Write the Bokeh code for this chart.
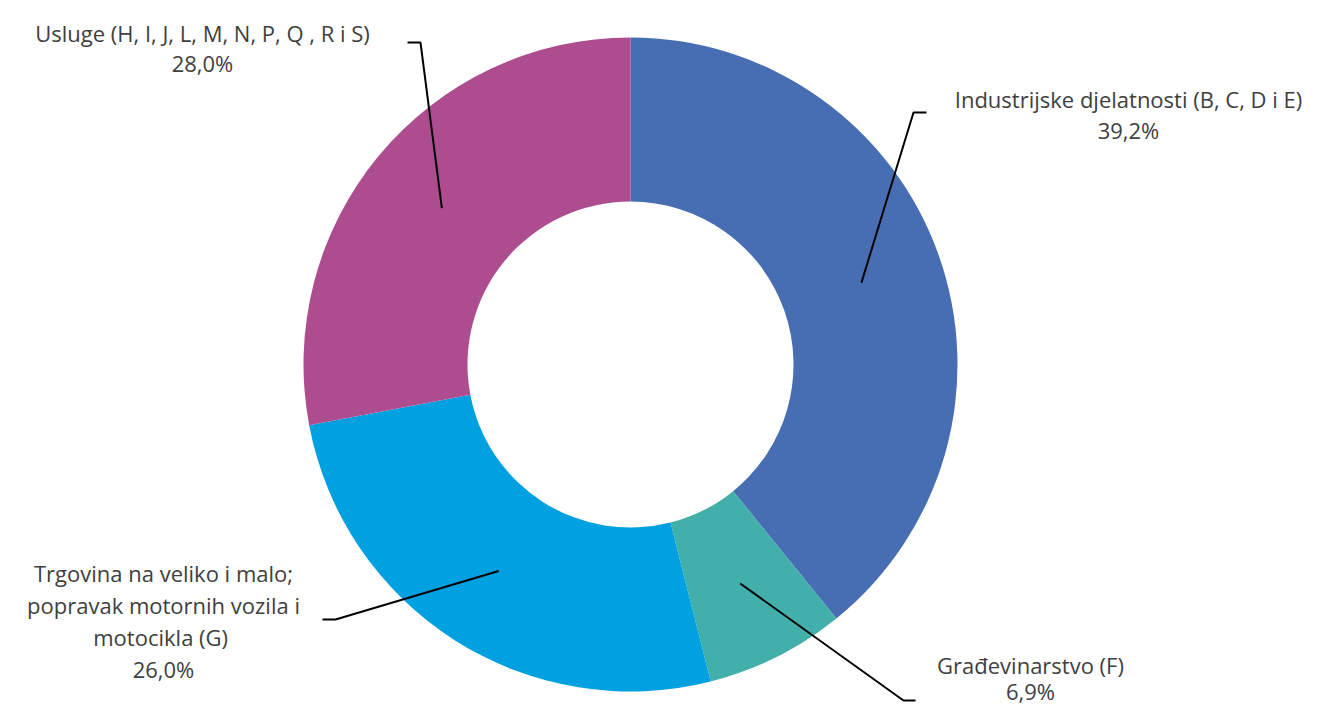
import math
from bokeh.plotting import figure
from bokeh.models import Range1d, ColumnDataSource
from bokeh.core.properties import value
from bokeh.embed import file_html
from bokeh.resources import INLINE

categories = [
    "Industrijske djelatnosti (B, C, D i E)",
    "Građevinarstvo (F)",
    "Trgovina na veliko i malo;\npopravak motornih vozila i\nmotocikla  (G)",
    "Usluge (H, I, J, L, M, N, P, Q , R i S)",
]
shares = [39.2, 6.9, 26.0, 28.0]
pct_labels = ["39,2%", "6,9%", "26,0%", "28,0%"]
colors = ["#476DB3", "#42AFAB", "#00A0E1", "#AD4C8F"]

W, H = 1309, 710
# data x = screen x, data y = H - screen y
def sy(y):
    return H - y

p = figure(width=W, height=H, output_backend="svg", toolbar_location=None,
           x_range=Range1d(0, W), y_range=Range1d(0, H), min_border=0)
p.axis.visible = False
p.grid.visible = False
p.outline_line_color = None

cx, cy = 630, sy(364)
r_out, r_in = 327, 163
total = sum(shares)
starts, ends, mids = [], [], []
c = 0.0
for s in shares:
    a0 = math.pi / 2 - 2 * math.pi * c / total
    c += s
    a1 = math.pi / 2 - 2 * math.pi * c / total
    starts.append(a0)
    ends.append(a1)
    mids.append((a0 + a1) / 2)

src = ColumnDataSource(dict(start=starts, end=ends, color=colors))
p.annular_wedge(x=cx, y=cy, inner_radius=r_in, outer_radius=r_out,
                start_angle="start", end_angle="end", direction="clock",
                fill_color="color", line_color=None, source=src)

# leader lines: start at middle of ring on mid angle
r_mid = (r_in + r_out) / 2
elbows = [(913, 112, 926), (903, 700, 915), (335, 619, 322), (420, 42, 407)]
for m, (ex, ey, hx) in zip(mids, elbows):
    x0 = cx + r_mid * math.cos(m)
    y0 = cy + r_mid * math.sin(m)
    p.line([x0, ex, hx], [y0, sy(ey), sy(ey)], line_color="black", line_width=2)

# labels
label_pos = [(1128, 98, 31), (1030, 664, 26), (163, 572, 32), (202, 32, 30)]
font = value("Open Sans")
for cat, pct, (lx, ly, step) in zip(categories, pct_labels, label_pos):
    lines = cat.split("\n") + [pct]
    for i, t in enumerate(lines):
        p.text(x=[lx], y=[sy(ly + i * step)], text=[t], text_font=font,
               text_font_size="22px", text_color="#404040",
               text_align="center", text_baseline="middle")

open("out.html", "w").write(file_html(p, INLINE))
